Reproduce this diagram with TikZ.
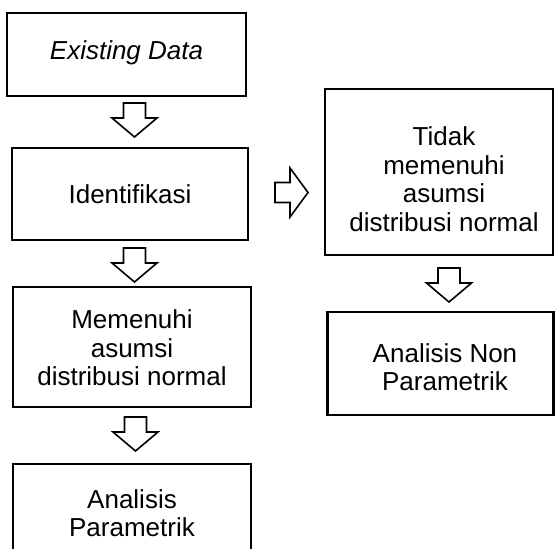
\documentclass[tikz,border=0pt]{standalone}
\usepackage{fontspec}
\setmainfont{Liberation Sans}
\begin{document}
\begin{tikzpicture}[x=1pt,y=-1pt,
  boxst/.style={draw=black, line width=2.2pt, inner sep=0pt},
  txt/.style={align=center, inner sep=0pt, font=\fontsize{26}{28.5}\selectfont},
  blockarrow/.style={draw=black, fill=white, line width=1.6pt, line join=miter},
  pics/darrow/.style={code={
    \path[blockarrow] (-11,0) -- (11,0) -- (11,15) -- (22.5,15) -- (0,34) -- (-22.5,15) -- (-11,15) -- cycle;}},
  pics/rarrow/.style={code={
    \path[blockarrow] (0,-10) -- (15,-10) -- (15,-24.5) -- (33,0) -- (15,24.5) -- (15,10) -- (0,10) -- cycle;}}
]
\useasboundingbox (0,0) rectangle (555,549);
% boxes
\node[boxst, minimum width=239pt, minimum height=83pt] (b1) at (126.5,54.5) {};
\node[boxst, minimum width=236pt, minimum height=92pt] (b2) at (130,194) {};
\node[boxst, minimum width=238pt, minimum height=120pt] (b3) at (132,347) {};
\node[boxst, minimum width=238pt, minimum height=116pt] (b4) at (132,522) {};
\node[boxst, minimum width=228pt, minimum height=166pt] (r1) at (439,172) {};
\node[boxst, minimum width=226pt, minimum height=103pt] (r2) at (440.5,363.5) {};
% texts
\node[txt] (t1) at (126.5,53) {\itshape Existing Data};
\node[txt] (t2) at (130,194) {Identifikasi};
\node[txt] (t3) at (132,348) {Memenuhi\\asumsi\\distribusi normal};
\node[txt] (t4) at (132,513) {Analisis\\Parametrik};
\node[txt] (t5) at (444,179) {Tidak\\memenuhi\\asumsi\\distribusi normal};
\node[txt] (t6) at (445,367) {Analisis Non\\Parametrik};
% block arrows
\pic at (134.5,103) {darrow};
\pic at (134.5,248) {darrow};
\pic at (135.5,417) {darrow};
\pic at (449,268) {darrow};
\pic at (275,192.5) {rarrow};
\end{tikzpicture}
\end{document}
